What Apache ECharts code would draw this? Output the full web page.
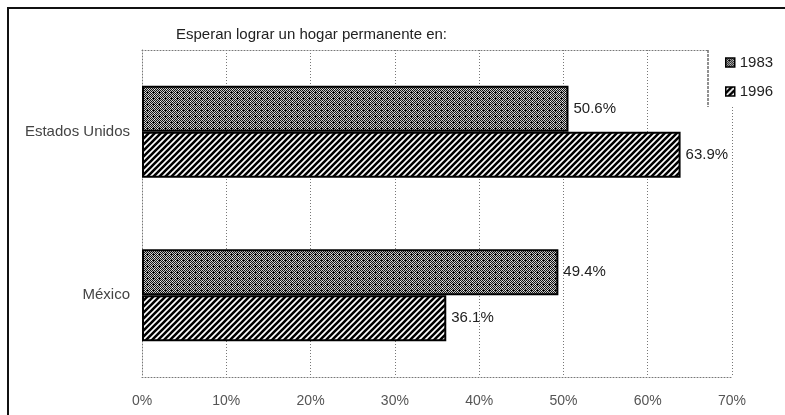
<!DOCTYPE html>
<html>
<head>
<meta charset="utf-8">
<script src="https://cdn.jsdelivr.net/npm/echarts@6/dist/echarts.min.js"></script>
<style>
  html, body { margin: 0; padding: 0; background: #fff; }
  #chart { width: 785px; height: 415px; }
</style>
</head>
<body>
<div id="chart"></div>
<script>
// data
var categories = ['Estados Unidos', 'México'];
var years = ['1983', '1996'];
var values1983 = [50.6, 49.4];
var values1996 = [63.9, 36.1];
var xTicks = [0, 10, 20, 30, 40, 50, 60, 70];

// fill patterns (gray stipple, diagonal hatch)
function makeStipple() {
    var c = document.createElement('canvas');
    c.width = 6; c.height = 6;
    var ctx = c.getContext('2d');
    ctx.fillStyle = '#c4c4c4';
    ctx.fillRect(0, 0, 6, 6);
    ctx.fillStyle = '#111';
    for (var x = 0; x < 6; x++) {
        for (var y = 0; y < 6; y++) {
            if ((x + y) % 2 === 0) ctx.fillRect(x, y, 1, 1);
        }
    }
    // a little mottling
    ctx.fillStyle = '#f4f4f4';
    ctx.fillRect(1, 2, 1, 1);
    ctx.fillRect(4, 5, 1, 1);
    ctx.fillStyle = '#000';
    ctx.fillRect(3, 2, 1, 1);
    return c;
}
function makeHatch() {
    var s = 6;
    var c = document.createElement('canvas');
    c.width = s; c.height = s;
    var ctx = c.getContext('2d');
    ctx.fillStyle = '#fff';
    ctx.fillRect(0, 0, s, s);
    ctx.strokeStyle = '#000';
    ctx.lineWidth = 2.6;
    ctx.beginPath();
    ctx.moveTo(0, s); ctx.lineTo(s, 0);
    ctx.moveTo(-s / 2, s / 2); ctx.lineTo(s / 2, -s / 2);
    ctx.moveTo(s / 2, s * 1.5); ctx.lineTo(s * 1.5, s / 2);
    ctx.stroke();
    return c;
}

var stipple = { image: makeStipple(), repeat: 'repeat' };
var hatch = { image: makeHatch(), repeat: 'repeat' };

var FONT = '"Liberation Sans", Arial, sans-serif';
var dotted = { color: '#777', width: 1, type: [1, 2] };

var chart = echarts.init(document.getElementById('chart'));

function barSeries(name, data, fill) {
    return {
        name: name,
        type: 'bar',
        data: data,
        barWidth: 46,
        barGap: '0%',
        itemStyle: { color: fill, borderColor: '#000', borderWidth: 2 },
        label: {
            show: true,
            position: 'right',
            distance: 5,
            formatter: function (p) { return p.value.toFixed(1) + '%'; },
            color: '#222',
            fontFamily: FONT,
            fontSize: 15
        }
    };
}

var option = {
    animation: false,
    backgroundColor: '#fff',
    textStyle: { fontFamily: FONT },
    title: {
        text: 'Esperan lograr un hogar permanente en:',
        left: 171,
        top: 22,
        textStyle: { fontSize: 15, fontWeight: 'normal', color: '#222', fontFamily: FONT }
    },
    legend: {
        orient: 'vertical',
        left: 725,
        top: 55,
        padding: 0,
        itemWidth: 9,
        itemHeight: 9,
        itemGap: 14,
        z: 20,
        icon: 'rect',
        textStyle: { fontSize: 15, color: '#222', fontFamily: FONT },
        itemStyle: { borderColor: '#000', borderWidth: 1.5 },
        data: years
    },
    grid: { left: 142, right: 53, top: 50, bottom: 38 },
    xAxis: [{
        type: 'value',
        min: xTicks[0],
        max: xTicks[xTicks.length - 1],
        interval: 10,
        axisLine: { show: true, lineStyle: dotted },
        axisTick: { show: false },
        axisLabel: {
            formatter: '{value}%',
            color: '#555',
            fontSize: 14,
            fontFamily: FONT,
            margin: 17,
            customValues: xTicks
        },
        splitLine: { show: true, lineStyle: dotted }
    }, {
        type: 'value',
        position: 'top',
        min: 0,
        max: 70,
        axisLine: { show: true, lineStyle: dotted },
        axisTick: { show: false },
        axisLabel: { show: false },
        splitLine: { show: false }
    }],
    yAxis: {
        type: 'category',
        inverse: true,
        data: categories,
        axisLine: { show: true, lineStyle: dotted },
        axisTick: { show: false },
        axisLabel: { color: '#444', fontSize: 15, fontFamily: FONT, margin: 12 },
        splitLine: { show: false }
    },
    graphic: [{
        // legend box covering the plot's top-right corner
        type: 'rect',
        z: 10,
        shape: { x: 708, y: 49, width: 120, height: 58 },
        style: { fill: '#fff', stroke: null }
    }, {
        type: 'line',
        z: 11,
        shape: { x1: 708, y1: 50, x2: 708, y2: 107 },
        style: { stroke: '#222', lineWidth: 1, lineDash: [3, 1] }
    }, {
        // outer frame, right and bottom edges lie off the canvas
        type: 'rect',
        z: 11,
        silent: true,
        shape: { x: 8, y: 8, width: 900, height: 500 },
        style: { fill: null, stroke: '#111', lineWidth: 2 }
    }],
    series: [
        barSeries(years[0], values1983, stipple),
        barSeries(years[1], values1996, hatch)
    ]
};

chart.setOption(option);
</script>
</body>
</html>
